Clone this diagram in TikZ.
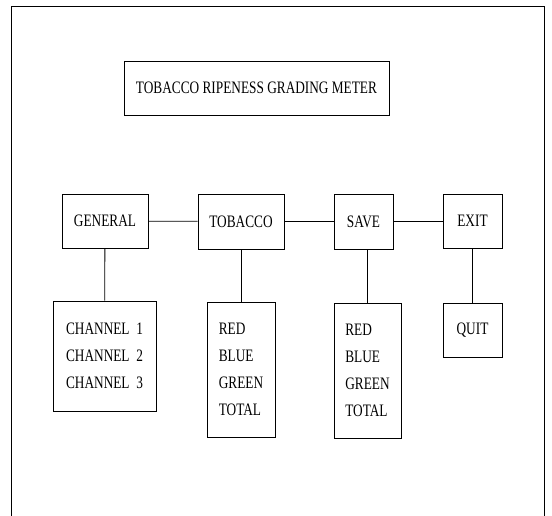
\documentclass[tikz,border=0pt]{standalone}
\usepackage{fontspec}
\setmainfont{Liberation Serif}[FakeStretch=0.76]
\usetikzlibrary{positioning}

\tikzset{
  menubox/.style={draw,line width=0.8pt,inner sep=0pt,align=left,
    font=\fontsize{17.5}{27}\selectfont},
  link/.style={line width=0.8pt}
}

\begin{document}
\begin{tikzpicture}[x=1pt,y=-1pt]
  \useasboundingbox (0,0) rectangle (552,516);
  \draw[link] (11,516) -- (11,6) -- (544,6) -- (544,516);
  \node[menubox,minimum width=265pt,minimum height=54pt] (title) at (256.5,88) {TOBACCO\ RIPENESS\ GRADING\ METER};
  \node[menubox,minimum width=86pt,minimum height=54pt] (general) at (105,221) {GENERAL};
  \node[menubox,minimum width=86pt,minimum height=55pt] (tobacco) at (241,221.5) {TOBACCO};
  \node[menubox,minimum width=59pt,minimum height=55pt] (save) at (363.5,222) {SAVE};
  \node[menubox,minimum width=59pt,minimum height=54pt] (exit) at (472.5,221) {EXIT};
  \node[menubox,minimum width=103pt,minimum height=110pt] (channels) at (104.5,356) {CHANNEL\ \ 1\\CHANNEL\ \ 2\\CHANNEL\ \ 3};
  \node[menubox,minimum width=68pt,minimum height=135pt] (tobaccolist) at (241,369.5) {RED\\BLUE\\GREEN\\TOTAL};
  \node[menubox,minimum width=67pt,minimum height=135pt] (savelist) at (367.5,370.5) {RED\\BLUE\\GREEN\\TOTAL};
  \node[menubox,minimum width=59pt,minimum height=54pt] (quit) at (472.5,330) {QUIT};
  \draw[link] (general) -- (tobacco);
  \draw[link] (tobacco) -- (save.west |- tobacco);
  \draw[link] (save.east |- exit) -- (exit);
  \draw[link] (general) -- (channels);
  \draw[link] (tobacco) -- (tobaccolist);
  \draw[link] (savelist.north |- save.south) -- (savelist);
  \draw[link] (exit) -- (quit);
\end{tikzpicture}
\end{document}
